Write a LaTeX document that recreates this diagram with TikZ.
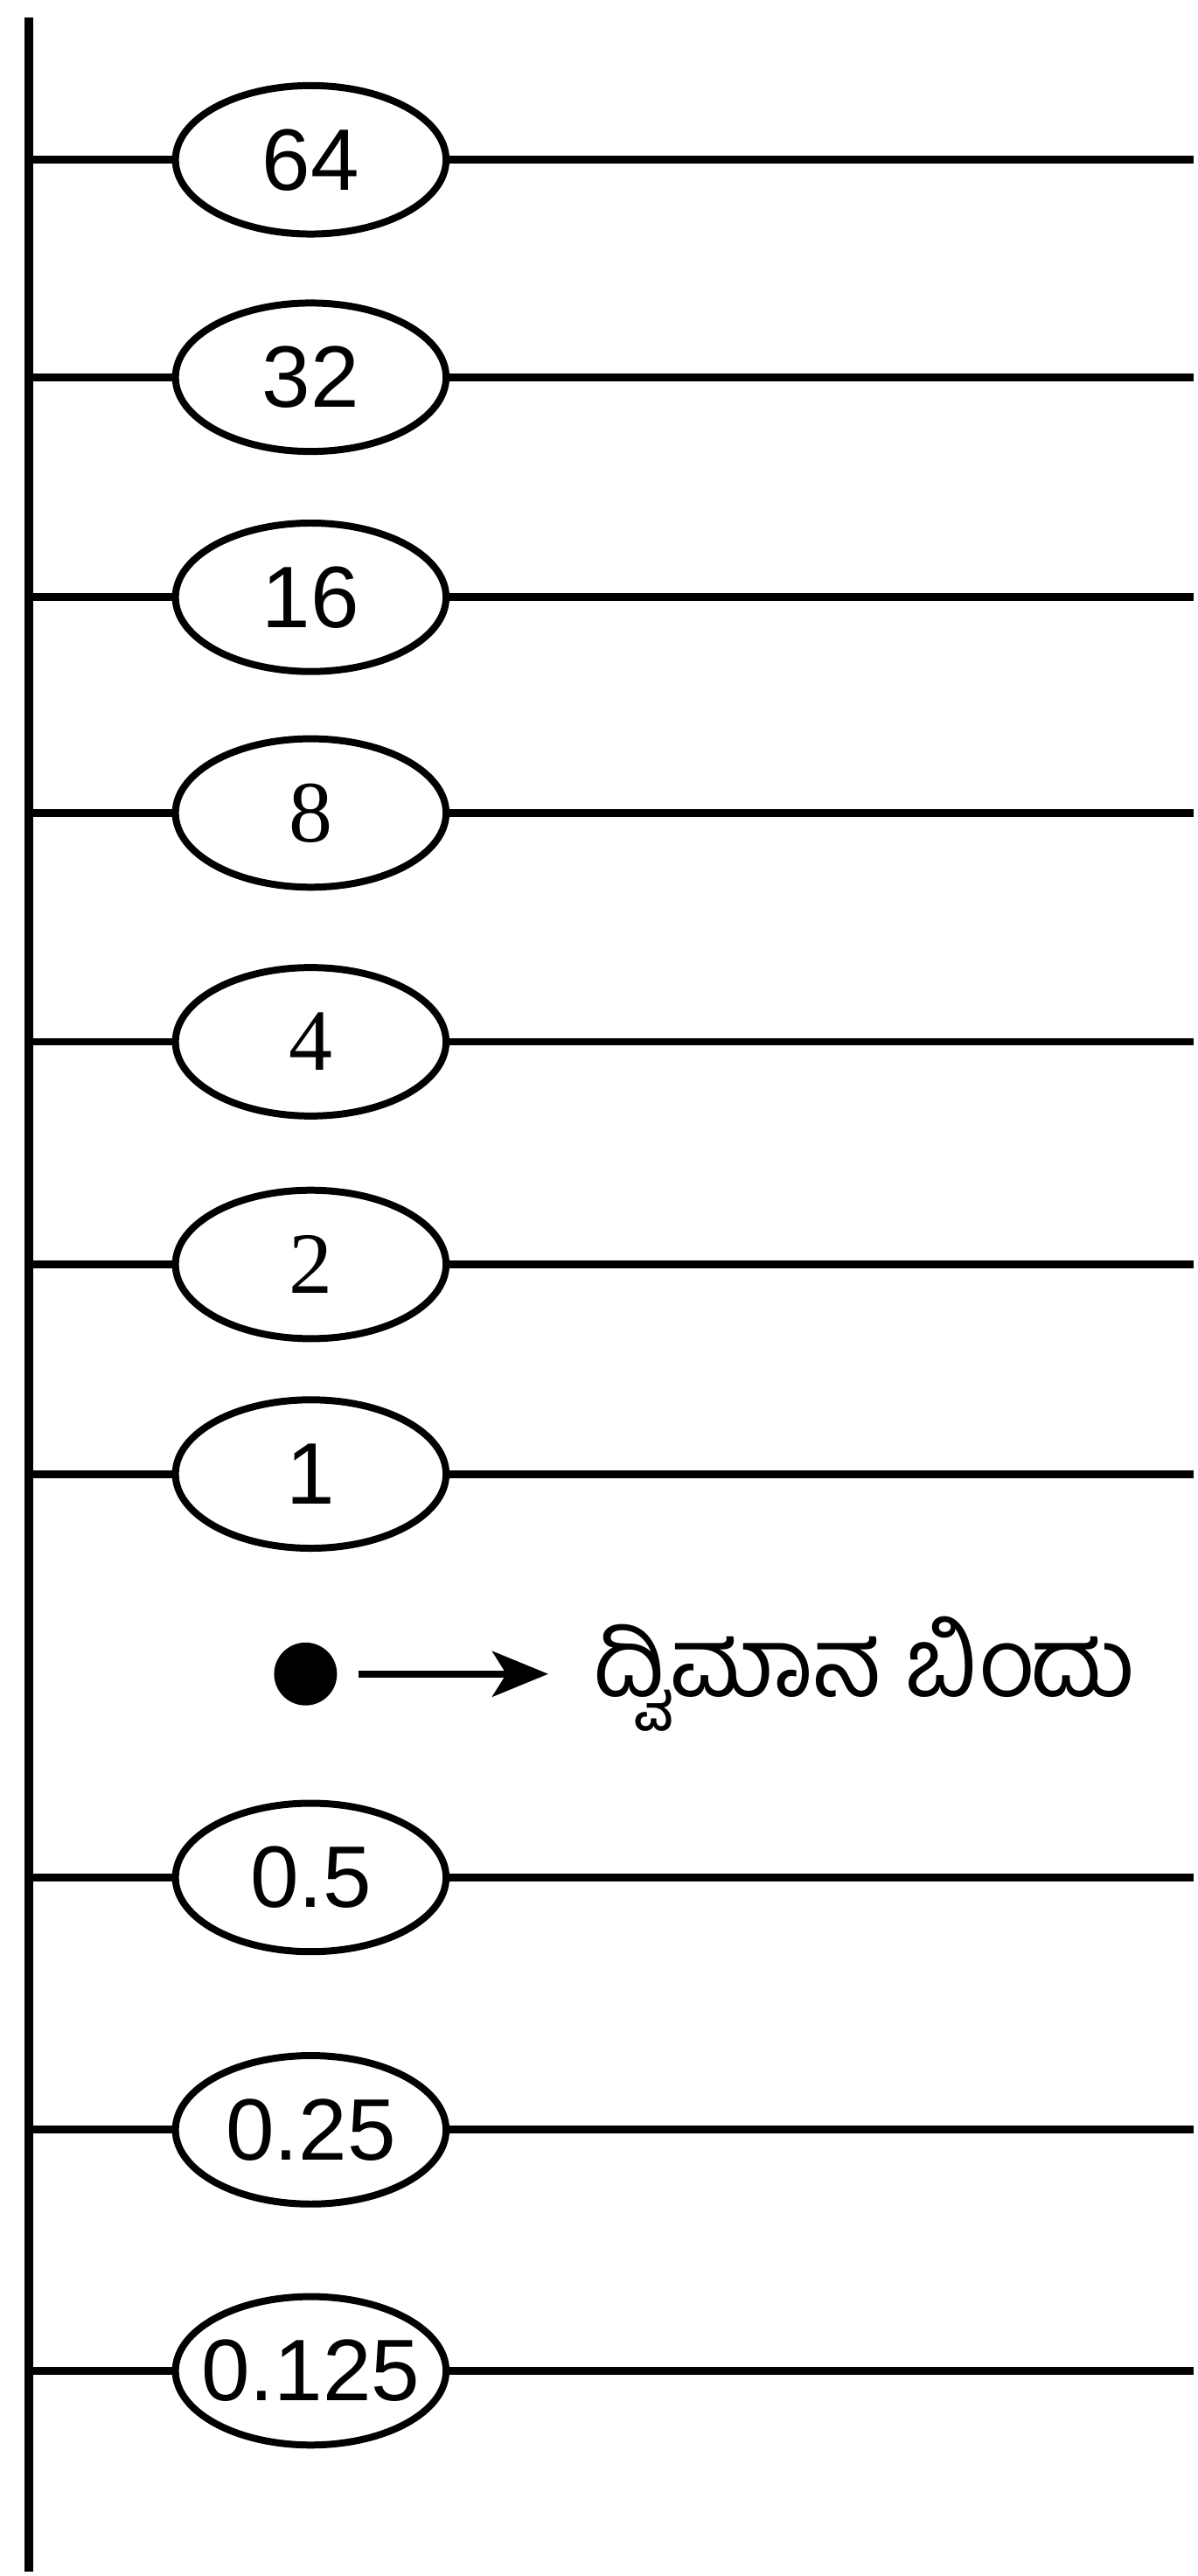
\documentclass[tikz,border=0pt]{standalone}
\usepackage{fontspec}
\setmainfont{Liberation Sans}
\newfontfamily\serifdig{Liberation Serif}
\newfontfamily\kan[Script=Kannada]{Hind Mysuru}
\usetikzlibrary{shapes.geometric,arrows.meta}
\begin{document}
\begin{tikzpicture}[x=0.5pt,y=-0.5pt,
  val/.style={ellipse,draw,line width=4pt,minimum width=155pt,minimum height=85pt,inner sep=0pt,font=\fontsize{50}{50}\selectfont},
  rung/.style={line width=4.5pt},
  pointer/.style={line width=4pt,-{Stealth[length=32pt,width=26pt,inset=8pt]}},
]
\fill[white] (0,0) rectangle (1367,2945);
\coordinate (top) at (33,20);
\coordinate (bot) at (33,2945);
\draw[line width=5pt] (top) -- (bot);
\foreach \v/\y/\n in {64/183/a,32/432/b,16/684/c,{\serifdig 8}/931/d,{\serifdig 4}/1193/e,{\serifdig 2}/1448/f,1/1688/g,0.5/2150/h,0.25/2439/i,0.125/2715/j}
 {
   \node[val] (\n) at (356,\y) {\makebox[0pt]{\v}};
   \coordinate (\n L) at (33,\y);
   \coordinate (\n R) at (1367,\y);
   \draw[rung] (\n L) -- (\n);
   \draw[rung] (\n) -- (\n R);
 }
\node[circle,fill,minimum size=36pt,inner sep=0pt] (dot) at (350,1917) {};
\node[anchor=west,inner sep=0pt,font=\kan\fontsize{55}{55}\selectfont] (lbl) at (680,1917) {ದ್ವಿಮಾನ ಬಿಂದು};
\draw[pointer,shorten <=12pt,shorten >=26pt] (dot.east) -- (lbl.west);
\end{tikzpicture}
\end{document}
